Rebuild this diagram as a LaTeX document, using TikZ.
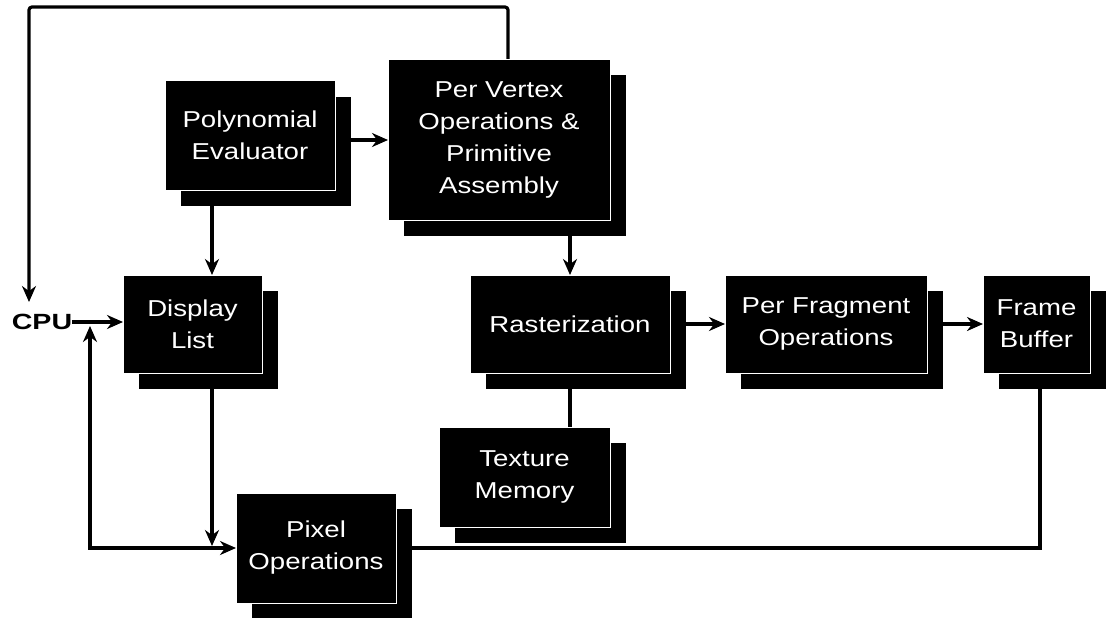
\documentclass[tikz,border=0pt]{standalone}
\usepackage{fontspec}
\newfontfamily\boxfont[FakeStretch=1.2]{Liberation Sans}
\newfontfamily\cpufont[FakeStretch=1.3]{Liberation Sans}
\usetikzlibrary{arrows.meta,shadows,calc}
\pgfdeclarelayer{background}
\pgfsetlayers{background,main}
\tikzset{
  stage/.style={fill=black, draw=white, line width=1pt, text=white,
    align=center, inner sep=0pt, outer sep=0pt,
    font=\boxfont\fontsize{23}{32}\selectfont,
    drop shadow={shadow xshift=15.5pt, shadow yshift=-15.5pt,
      fill=black, opacity=1}},
  link/.style={line width=3.2pt, draw=black},
  tip/.tip={Stealth[length=16pt,width=14pt]},
  arr/.style={link, -tip},
  arrboth/.style={link, tip-tip},
}
\begin{document}
\begin{tikzpicture}[x=1pt, y=-1pt]
\useasboundingbox (0,0) rectangle (1106,618);

% pipeline stages
\node[stage, minimum width=170pt, minimum height=109pt] (poly) at (250,135.5) {Polynomial\\Evaluator};
\node[stage, minimum width=222pt, minimum height=160pt] (vert) at (499,140) {Per Vertex\\Operations \&\\Primitive\\Assembly};
\node[stage, minimum width=139pt, minimum height=98pt] (disp) at (192.5,324) {Display\\List};
\node[stage, minimum width=200pt, minimum height=98pt] (rast) at (570,324) {Rasterization};
\node[stage, minimum width=202pt, minimum height=98pt] (frag) at (826,324) {Per Fragment\\Operations};
\node[stage, minimum width=107pt, minimum height=98pt] (fb) at (1036.5,324) {Frame\\Buffer};
\node[stage, minimum width=171pt, minimum height=100pt] (tex) at (524.5,477) {Texture\\Memory};
\node[stage, minimum width=160pt, minimum height=110pt] (pix) at (316,548) {Pixel\\Operations};

\node[inner sep=0pt, outer sep=0pt, font=\cpufont\bfseries\fontsize{22}{22}\selectfont] (cpu) at (42,322) {CPU};

% free ends of connectors
\coordinate (loopc) at (29,7);
\coordinate (cpuin) at (29,302);
\coordinate (cpuup) at (90,326);
\coordinate (dl) at (212,546);

\begin{pgfonlayer}{background}
  \draw[arr, rounded corners=3pt] ([xshift=9pt]vert.north) |- (loopc) -- (cpuin);
  \draw[arr] ([yshift=-4.5pt]poly.east) -- ([yshift=-4.5pt]poly.east -| vert.west);
  \draw[arr] (dl |- poly.south) -- (dl |- disp.north);
  \draw[arr] (cpu.east) -- (cpu.east -| disp.west);
  \draw[arr] (dl |- disp.south) -- (dl);
  \draw[arrboth] (cpuup) |- (pix.west);
  \draw[arr] (rast.north |- vert.south) -- (rast.north);
  \draw[arr] (rast.east) -- (frag.west);
  \draw[arr] (frag.east) -- (fb.west);
  \draw[link] (rast.south) -- (rast.south |- tex.north);
  \draw[link] ([xshift=3.5pt]fb.south) |- (pix.east);
\end{pgfonlayer}
\end{tikzpicture}
\end{document}
